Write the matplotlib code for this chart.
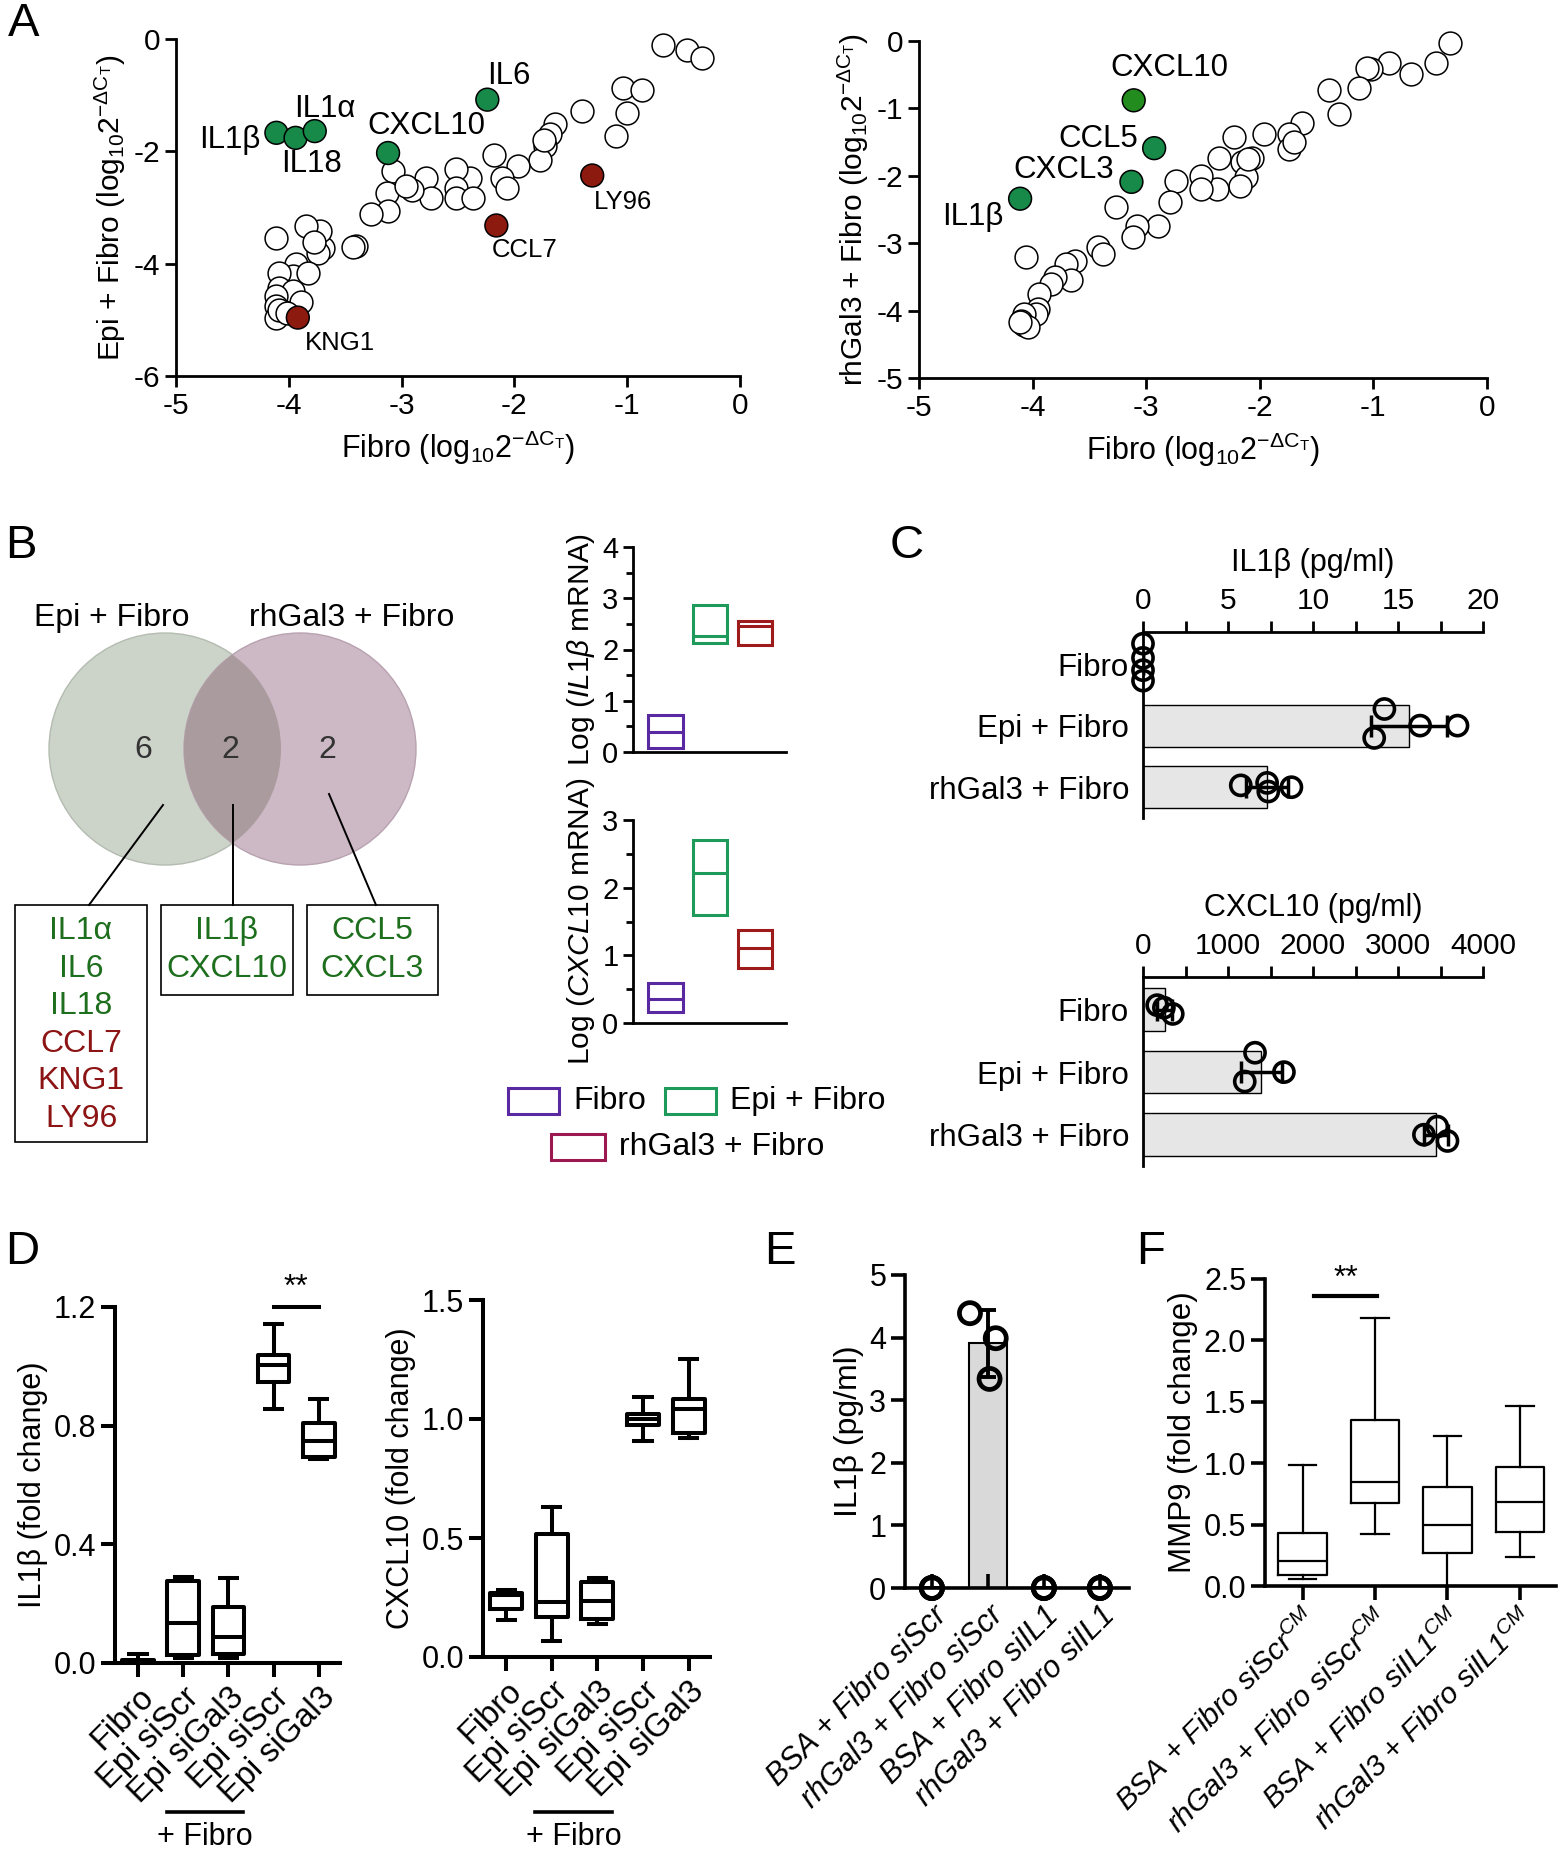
import numpy as np
import matplotlib.pyplot as plt
from matplotlib.patches import Circle, Rectangle
from matplotlib.transforms import blended_transform_factory

plt.rcParams['font.family'] = ['Liberation Sans', 'DejaVu Sans']
plt.rcParams['mathtext.fontset'] = 'custom'
plt.rcParams['mathtext.rm'] = 'Liberation Sans'
plt.rcParams['mathtext.it'] = 'Liberation Sans:italic'
plt.rcParams['mathtext.bf'] = 'Liberation Sans:bold'
plt.rcParams['axes.unicode_minus'] = False
plt.rcParams['axes.linewidth'] = 2
plt.rcParams['xtick.major.width'] = 2
plt.rcParams['ytick.major.width'] = 2
plt.rcParams['xtick.minor.width'] = 2
plt.rcParams['ytick.minor.width'] = 2

# ---------------- data ----------------
# A: qPCR array, Fibro vs Epi + Fibro
a1_fibro = [-0.68, -0.47, -0.34, -1.04, -0.87, -1.00, -1.10, -1.40, -1.64, -1.68,
            -1.73, -1.77, -1.97, -2.18, -2.11, -2.07, -2.39, -2.52, -2.52, -2.52,
            -2.37, -2.78, -2.74, -2.91, -3.08, -3.13, -3.12, -3.27, -3.40, -3.43,
            -3.70, -3.72, -3.85, -3.74, -4.11, -3.94, -3.96, -3.83, -4.09, -4.09,
            -3.96, -3.89, -4.11, -4.11, -4.11, -4.09, -4.02, -3.78, -2.96, -1.74]
a1_epi = [-0.10, -0.19, -0.34, -0.87, -0.90, -1.32, -1.73, -1.29, -1.52, -1.70,
          -1.91, -2.15, -2.26, -2.06, -2.47, -2.65, -2.47, -2.32, -2.65, -2.83,
          -2.83, -2.47, -2.83, -2.68, -2.35, -2.74, -3.06, -3.12, -3.69, -3.71,
          -3.72, -3.42, -3.33, -3.81, -3.54, -4.01, -4.22, -4.16, -4.16, -4.43,
          -4.49, -4.69, -4.58, -4.75, -4.96, -4.82, -4.87, -3.62, -2.62, -1.80]
a1_genes = ['IL1β', 'IL18', 'IL1α', 'CXCL10', 'IL6', 'LY96', 'CCL7', 'KNG1']
a1_gene_fibro = [-4.11, -3.94, -3.77, -3.12, -2.24, -1.31, -2.16, -3.92]
a1_gene_epi = [-1.67, -1.76, -1.64, -2.03, -1.08, -2.43, -3.32, -4.96]
a1_up = [True, True, True, True, True, False, False, False]

# A: Fibro vs rhGal3 + Fibro
a2_fibro = [-0.33, -0.45, -0.67, -0.86, -1.02, -1.06, -1.13, -1.39, -1.30, -1.63,
            -1.74, -1.74, -1.96, -2.23, -2.07, -2.16, -2.12, -2.17, -2.36, -2.38,
            -2.52, -2.52, -2.74, -2.79, -2.90, -3.08, -3.12, -3.27, -3.42, -3.38,
            -3.63, -3.71, -3.66, -3.80, -3.84, -3.94, -3.95, -3.97, -4.06, -4.08,
            -4.10, -4.08, -4.04, -4.11, -1.70, -2.10]
a2_gal3 = [-0.03, -0.32, -0.49, -0.32, -0.42, -0.40, -0.69, -0.72, -1.09, -1.21,
           -1.38, -1.60, -1.38, -1.43, -1.73, -1.80, -2.02, -2.15, -1.73, -2.20,
           -2.00, -2.20, -2.07, -2.39, -2.75, -2.74, -2.91, -2.47, -3.06, -3.16,
           -3.26, -3.31, -3.55, -3.50, -3.60, -3.75, -3.97, -4.05, -3.21, -4.05,
           -4.15, -4.22, -4.24, -4.17, -1.50, -1.75]
a2_genes = ['CXCL10', 'CCL5', 'CXCL3', 'IL1β']
a2_gene_fibro = [-3.11, -2.93, -3.13, -4.11]
a2_gene_gal3 = [-0.88, -1.59, -2.09, -2.34]

# B: Venn
venn_counts = [6, 2, 2]
venn_sets = ['Epi + Fibro', 'rhGal3 + Fibro']
epi_only = ['IL1α', 'IL6', 'IL18', 'CCL7', 'KNG1', 'LY96']
epi_only_up = [True, True, True, False, False, False]
shared = ['IL1β', 'CXCL10']
gal3_only = ['CCL5', 'CXCL3']

# B: mRNA floating bars (min, max, line at median)
b_groups = ['Fibro', 'Epi + Fibro', 'rhGal3 + Fibro']
il1b_mrna_lo = [0.08, 2.13, 2.08]
il1b_mrna_hi = [0.73, 2.87, 2.55]
il1b_mrna_mid = [0.39, 2.26, 2.46]
cxcl10_mrna_lo = [0.16, 1.60, 0.82]
cxcl10_mrna_hi = [0.59, 2.71, 1.37]
cxcl10_mrna_mid = [0.35, 2.22, 1.11]

# C: ELISA
c_groups = ['Fibro', 'Epi + Fibro', 'rhGal3 + Fibro']
il1b_fibro = [0.0, 0.0, 0.0, 0.0]
il1b_epi = [14.2, 13.6, 16.3, 18.5]
il1b_gal3 = [5.75, 7.3, 7.37, 8.73]
cxcl10_fibro = [167, 246, 350]
cxcl10_epi = [1318, 1197, 1658]
cxcl10_gal3 = [3462, 3305, 3582]

# D: box plots (min, q1, median, q3, max)
d_groups = ['Fibro', 'Epi siScr', 'Epi siGal3', 'Epi siScr', 'Epi siGal3']
d_il1b_min = [0.0, 0.018, 0.016, 0.857, 0.689]
d_il1b_q1 = [0.0, 0.026, 0.031, 0.948, 0.695]
d_il1b_med = [0.005, 0.135, 0.089, 1.003, 0.750]
d_il1b_q3 = [0.010, 0.277, 0.190, 1.038, 0.809]
d_il1b_max = [0.031, 0.290, 0.287, 1.142, 0.889]
d_cx_min = [0.156, 0.068, 0.137, 0.909, 0.921]
d_cx_q1 = [0.200, 0.166, 0.158, 0.974, 0.942]
d_cx_med = [0.262, 0.230, 0.237, 1.001, 1.043]
d_cx_q3 = [0.270, 0.518, 0.314, 1.019, 1.086]
d_cx_max = [0.282, 0.632, 0.330, 1.091, 1.252]

# E: IL1b ELISA after siIL1
e_groups = ['BSA + Fibro siScr', 'rhGal3 + Fibro siScr', 'BSA + Fibro siIL1', 'rhGal3 + Fibro siIL1']
e_vals = [[0.0, 0.0, 0.0], [4.39, 3.99, 3.34], [0.0, 0.0, 0.0], [0.0, 0.0, 0.0]]

# F: MMP9 box plots
f_groups = ['BSA + Fibro siScr$^{CM}$', 'rhGal3 + Fibro siScr$^{CM}$',
            'BSA + Fibro siIL1$^{CM}$', 'rhGal3 + Fibro siIL1$^{CM}$']
f_min = [0.06, 0.426, 0.0, 0.235]
f_q1 = [0.086, 0.673, 0.272, 0.441]
f_med = [0.204, 0.849, 0.497, 0.682]
f_q3 = [0.432, 1.352, 0.806, 0.966]
f_max = [0.988, 2.185, 1.222, 1.469]

GREEN = '#178a4a'
RED = '#8c1a0f'
TXT_GREEN = '#1d6e1d'
TXT_RED = '#8c1414'
B_COLORS = ['#5a28a0', '#1e9a5a', '#9e1b1b']

# ---------------- layout helpers ----------------
W, H = 1560, 1853
fig = plt.figure(figsize=(W / 100, H / 100), dpi=100)


def px_axes(x0, y0, x1, y1):
    ax = fig.add_axes([x0 / W, 1 - y1 / H, (x1 - x0) / W, (y1 - y0) / H])
    ax.set_facecolor('none')
    return ax


def clean(ax):
    ax.spines['top'].set_visible(False)
    ax.spines['right'].set_visible(False)


over = fig.add_axes([0, 0, 1, 1])
over.set_xlim(0, W)
over.set_ylim(H, 0)
over.axis('off')

for letter, lx, ly in [('A', 8, 2), ('B', 5, 524), ('C', 890, 524),
                       ('D', 5, 1230), ('E', 764, 1230), ('F', 1136, 1230)]:
    over.text(lx, ly, letter, fontsize=34, va='top', ha='left')

xlab = r'Fibro (log$_{10}$2$^{\mathrm{-\Delta C_T}}$)'

# ---------------- A left ----------------
ax = px_axes(176, 39, 740, 376)
clean(ax)
ax.scatter(a1_fibro, a1_epi, s=270, facecolors='white', edgecolors='black', linewidths=1.1,
           zorder=3, clip_on=False)
gcols = [GREEN if u else RED for u in a1_up]
ax.scatter(a1_gene_fibro, a1_gene_epi, s=270, c=gcols, edgecolors='black', linewidths=1.1, zorder=4)
lab_pos = [(-4.52, -1.79), (-3.80, -2.23), (-3.68, -1.24), (-2.78, -1.55),
           (-2.05, -0.66), (-1.04, -2.90), (-1.91, -3.75), (-3.55, -5.41)]
for g, (tx, ty), u in zip(a1_genes, lab_pos, a1_up):
    ax.text(tx, ty, g, ha='center', va='center', fontsize=22.5 if u else 18.5)
ax.set_xlim(-5, 0)
ax.set_ylim(-6, 0)
ax.set_xticks(range(-5, 1))
ax.set_yticks([-6, -4, -2, 0])
ax.tick_params(labelsize=21.5, length=8)
ax.set_xlabel(xlab, fontsize=22, labelpad=6)
ax.set_ylabel(r'Epi + Fibro (log$_{10}$2$^{\mathrm{-\Delta C_T}}$)', fontsize=21.5)

# ---------------- A right ----------------
ax = px_axes(919, 41, 1487, 378)
clean(ax)
ax.scatter(a2_fibro, a2_gal3, s=270, facecolors='white', edgecolors='black', linewidths=1.1,
           zorder=3, clip_on=False)
ax.scatter(a2_gene_fibro, a2_gene_gal3, s=270, c=['#238c1e', GREEN, GREEN, GREEN],
           edgecolors='black', linewidths=1.1, zorder=4)
lab_pos = [(-2.80, -0.40), (-3.42, -1.46), (-3.73, -1.92), (-4.53, -2.61)]
for g, (tx, ty) in zip(a2_genes, lab_pos):
    ax.text(tx, ty, g, ha='center', va='center', fontsize=22.5)
ax.set_xlim(-5, 0)
ax.set_ylim(-5, 0)
ax.set_xticks(range(-5, 1))
ax.set_yticks(range(-5, 1))
ax.tick_params(labelsize=21.5, length=8)
ax.set_xlabel(xlab, fontsize=22, labelpad=6)
ax.set_ylabel(r'rhGal3 + Fibro (log$_{10}$2$^{\mathrm{-\Delta C_T}}$)', fontsize=21.5)

# ---------------- B Venn ----------------
left_c = Circle((165, 749), 116, facecolor='#ccd3c9', edgecolor='#b4bcb1', lw=1)
right_c = Circle((300, 749), 116, facecolor='#cdb9c5', edgecolor='#b8a2b0', lw=1)
over.add_patch(left_c)
over.add_patch(right_c)
inter = Circle((300, 749), 116, facecolor='#a99b9e', edgecolor='none')
over.add_patch(inter)
inter.set_clip_path(Circle((165, 749), 116, transform=over.transData))
for n, cx in zip(venn_counts, [143, 230, 327]):
    over.text(cx, 750, str(n), ha='center', va='center', fontsize=23, color='#333333')
over.text(112, 618, venn_sets[0], ha='center', va='center', fontsize=23)
over.text(352, 618, venn_sets[1], ha='center', va='center', fontsize=23)
for (x0, y0), (x1, y1) in [((163, 805), (89, 905)), ((233, 805), (233, 905)), ((329, 794), (376, 905))]:
    over.plot([x0, x1], [y0, y1], color='black', lw=1.4)

boxes = [(15, 147, 905, 1142, epi_only, epi_only_up),
         (161, 293, 905, 995, shared, [True] * 2),
         (307, 438, 905, 995, gal3_only, [True] * 2)]
for x0, x1, y0, y1, genes, ups in boxes:
    over.add_patch(Rectangle((x0, y0), x1 - x0, y1 - y0, fill=False, edgecolor='black', lw=1.2))
    for k, (g, u) in enumerate(zip(genes, ups)):
        over.text((x0 + x1) / 2, 931 + 37.6 * k, g, ha='center', va='center', fontsize=23,
                  color=TXT_GREEN if u else TXT_RED)


# ---------------- B mRNA panels ----------------
def mrna_panel(ax, lo, hi, mid, ymax, label):
    clean(ax)
    xs = np.arange(1, len(lo) + 1)
    ax.bar(xs, np.subtract(hi, lo), bottom=lo, width=0.76, fill=False,
           edgecolor=B_COLORS, linewidth=2.2)
    ax.hlines(mid, xs - 0.38, xs + 0.38, colors=B_COLORS, lw=2.2)
    ax.set_xlim(0.28, 3.68)
    ax.set_ylim(0, ymax)
    ax.set_xticks([])
    ax.set_yticks(range(0, ymax + 1))
    ax.set_yticks(np.arange(0.5, ymax, 1), minor=True)
    ax.tick_params(axis='y', which='major', labelsize=21, length=7)
    ax.tick_params(axis='y', which='minor', length=5)
    ax.set_ylabel(label, fontsize=21.5, labelpad=4)


ax = px_axes(633, 547, 786, 752)
mrna_panel(ax, il1b_mrna_lo, il1b_mrna_hi, il1b_mrna_mid, 4, r'Log ($\mathit{IL1\beta}$ mRNA)')
ax = px_axes(633, 820, 786, 1023)
mrna_panel(ax, cxcl10_mrna_lo, cxcl10_mrna_hi, cxcl10_mrna_mid, 3, r'Log ($\mathit{CXCL10}$ mRNA)')

leg = [(508, 1088, 559, 'Fibro', B_COLORS[0]), (665, 1088, 716, 'Epi + Fibro', B_COLORS[1]),
       (551, 1134, 605, 'rhGal3 + Fibro', '#9c1850')]
for x0, y0, x1, name, col in leg:
    over.add_patch(Rectangle((x0, y0), x1 - x0, 26, fill=False, edgecolor=col, lw=2.2))
    over.text(x1 + 14, y0 + 13, name, ha='left', va='center', fontsize=23)


# ---------------- C ----------------
def elisa_panel(ax, groups, offsets, xmax, step, minor, title):
    ax.spines['bottom'].set_visible(False)
    ax.spines['right'].set_visible(False)
    ys = np.arange(len(groups))
    means = [np.mean(v) for v in groups]
    sds = [np.std(v, ddof=1) for v in groups]
    ax.barh(ys, means, height=0.68, color='#e6e6e6', edgecolor='black', lw=1)
    ax.errorbar(means, ys, xerr=sds, fmt='none', ecolor='black', elinewidth=2.5,
                capsize=8, capthick=2.5, zorder=3)
    for i, v in enumerate(groups):
        ax.scatter(v, i + np.array(offsets[i]), s=210, facecolors='none', edgecolors='black',
                   linewidths=2.6, zorder=4, clip_on=False)
    ax.set_ylim(2.5, -0.52)
    ax.set_xlim(0, xmax)
    ax.xaxis.tick_top()
    ax.xaxis.set_label_position('top')
    ax.set_xticks(np.arange(0, xmax + 1, step))
    ax.set_xticks(np.arange(minor, xmax, step), minor=True)
    ax.tick_params(axis='x', which='both', top=True, length=8, labelsize=21.5, pad=4)
    ax.set_yticks(ys)
    ax.set_yticklabels(c_groups)
    ax.tick_params(axis='y', length=0, labelsize=22.5, pad=10)
    ax.set_xlabel(title, fontsize=22, labelpad=12)


ax = px_axes(1143, 632, 1483, 818)
elisa_panel(ax, [il1b_fibro, il1b_epi, il1b_gal3],
            [[-0.33, -0.1, 0.1, 0.27], [-0.27, 0.2, 0.0, 0.0], [-0.03, -0.07, 0.07, 0.0]],
            20, 5, 2.5, 'IL1β (pg/ml)')
ax = px_axes(1143, 977, 1483, 1166)
elisa_panel(ax, [cxcl10_fibro, cxcl10_epi, cxcl10_gal3],
            [[-0.07, -0.03, 0.07], [-0.31, 0.15, 0.0], [-0.13, 0.0, 0.1]],
            4000, 1000, 500, 'CXCL10 (pg/ml)')


# ---------------- D ----------------
def box_panel(ax, mins, q1s, meds, q3s, maxs, lw, width):
    stats = [dict(whislo=a, q1=b, med=c, q3=d, whishi=e)
             for a, b, c, d, e in zip(mins, q1s, meds, q3s, maxs)]
    n = len(stats)
    props = dict(color='black', lw=lw)
    ax.bxp(stats, positions=range(1, n + 1), widths=width, showfliers=False,
           boxprops=props, whiskerprops=props, capprops=props,
           medianprops=props, capwidths=0.38, manage_ticks=False)


def plus_fibro(ax):
    tr = blended_transform_factory(ax.transData, over.transData)
    ax.plot([1.64, 3.32], [1812, 1812], color='black', lw=2.6, transform=tr, clip_on=False)
    ax.text(2.48, 1837, '+ Fibro', ha='center', va='center', fontsize=22, transform=tr)


for rect, stats, ymax, step, ylab in [
        ((115, 1307, 340, 1663), (d_il1b_min, d_il1b_q1, d_il1b_med, d_il1b_q3, d_il1b_max),
         1.2, 0.4, 'IL1β (fold change)'),
        ((483, 1300, 710, 1657), (d_cx_min, d_cx_q1, d_cx_med, d_cx_q3, d_cx_max),
         1.5, 0.5, 'CXCL10 (fold change)')]:
    ax = px_axes(*rect)
    clean(ax)
    ax.spines['left'].set_linewidth(2.9)
    ax.spines['bottom'].set_linewidth(2.9)
    box_panel(ax, *stats, lw=2.9, width=0.7)
    ax.set_xlim(0.49, 5.47)
    ax.set_ylim(0, ymax)
    ax.set_yticks(np.arange(0, ymax + 0.01, step))
    ax.set_yticklabels([f'{v:.1f}' for v in np.arange(0, ymax + 0.01, step)])
    ax.set_xticks(range(1, 6))
    ax.set_xticklabels(d_groups, rotation=45, ha='right', rotation_mode='anchor')
    ax.tick_params(axis='y', labelsize=22, length=10, width=2.9)
    ax.tick_params(axis='x', labelsize=23.5, length=10, width=2.9)
    ax.set_ylabel(ylab, fontsize=22)
    plus_fibro(ax)
    if ymax == 1.2:
        ax.plot([4, 5], [1.2, 1.2], color='black', lw=2.9, clip_on=False)
        ax.text(4.5, 1.215, '**', ha='center', va='bottom', fontsize=23)

# ---------------- E ----------------
ax = px_axes(905, 1275, 1129, 1588)
clean(ax)
ex = np.arange(1, 5)
means = [np.mean(v) for v in e_vals]
sds = [np.std(v, ddof=1) for v in e_vals]
ax.bar(ex, means, width=0.68, color='#d9d9d9', edgecolor='black', lw=1.5)
ax.errorbar(ex, means, yerr=sds, fmt='none', ecolor='black', elinewidth=2.8,
            capsize=6, capthick=2.8, zorder=3)
e_off = [[0, 0, 0], [-0.32, 0.14, 0.03], [0, 0, 0], [0, 0, 0]]
for i, v in enumerate(e_vals):
    ax.scatter(i + 1 + np.array(e_off[i]), v, s=230, facecolors='none', edgecolors='black',
               linewidths=3.4, zorder=4, clip_on=False)
ax.set_xlim(0.52, 4.52)
ax.set_ylim(0, 5)
ax.set_yticks(range(6))
ax.set_xticks(ex)
ax.set_xticklabels(e_groups, rotation=45, ha='right', rotation_mode='anchor', style='italic')
ax.tick_params(axis='y', labelsize=22, length=10, width=2.6)
ax.tick_params(axis='x', labelsize=22, length=10, width=2.6, direction='in', pad=9)
ax.spines['left'].set_linewidth(2.6)
ax.spines['bottom'].set_linewidth(2.6)
ax.set_ylabel('IL1β (pg/ml)', fontsize=23)

# ---------------- F ----------------
ax = px_axes(1265, 1279, 1556, 1586)
clean(ax)
box_panel(ax, f_min, f_q1, f_med, f_q3, f_max, lw=1.6, width=0.67)
ax.set_xlim(0.48, 4.5)
ax.set_ylim(0, 2.5)
ax.set_yticks(np.arange(0, 2.51, 0.5))
ax.set_yticklabels([f'{v:.1f}' for v in np.arange(0, 2.51, 0.5)])
ax.set_xticks(range(1, 5))
ax.set_xticklabels(f_groups, rotation=45, ha='right', rotation_mode='anchor', style='italic')
ax.tick_params(axis='y', labelsize=22, length=10, width=2.6)
ax.tick_params(axis='x', labelsize=21.5, length=10, width=2.6)
ax.spines['left'].set_linewidth(2.6)
ax.spines['bottom'].set_linewidth(2.6)
ax.set_ylabel('MMP9 (fold change)', fontsize=22.5)
ax.plot([1.16, 2.03], [2.36, 2.36], color='black', lw=3, clip_on=False)
ax.text(1.6, 2.38, '**', ha='center', va='bottom', fontsize=23)

fig.savefig('out.png', dpi=100)
